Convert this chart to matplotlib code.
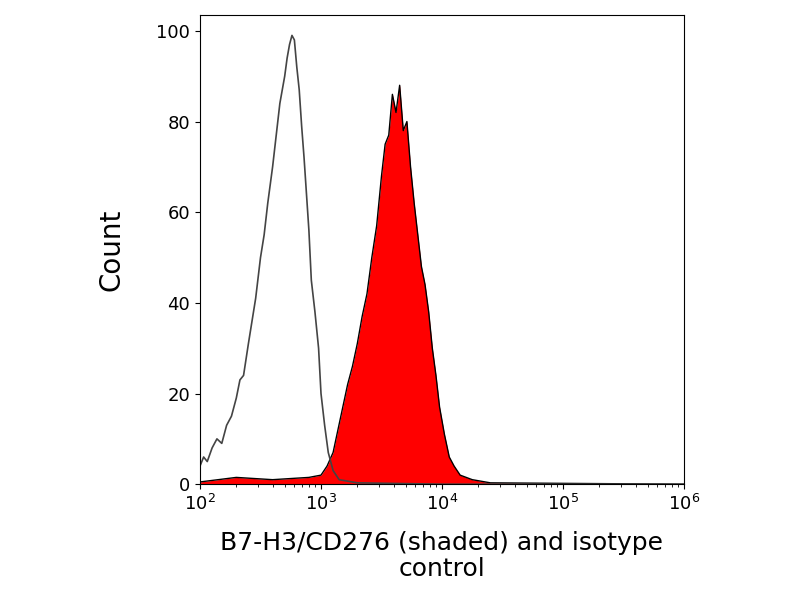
import matplotlib
matplotlib.use("Agg")
import matplotlib.pyplot as plt
import numpy as np

# log10 of intensity and count
iso_logx = [2.0, 2.03, 2.06, 2.1, 2.14, 2.18, 2.22, 2.26, 2.3, 2.33, 2.36, 2.4, 2.43, 2.46, 2.5,
            2.53, 2.56, 2.6, 2.63, 2.66, 2.7, 2.72, 2.74, 2.76, 2.78, 2.8, 2.82, 2.84, 2.86,
            2.88, 2.9, 2.92, 2.95, 2.98, 3.0, 3.03, 3.06, 3.1, 3.15, 3.3, 4.0, 6.0]
iso_count = [4, 6, 5, 8, 10, 9, 13, 15, 19, 23, 24, 31, 36, 41, 50,
             55, 62, 70, 77, 84, 90, 94, 97, 99, 98, 92, 87, 79, 72,
             64, 56, 45, 38, 30, 20, 13, 7, 3, 1, 0.3, 0, 0]

cd_logx = [2.0, 2.3, 2.6, 2.9, 3.0, 3.05, 3.1, 3.14, 3.18, 3.22, 3.26, 3.3, 3.34, 3.38,
           3.42, 3.46, 3.5, 3.53, 3.56, 3.59, 3.62, 3.65, 3.68, 3.71, 3.74, 3.77, 3.8,
           3.83, 3.86, 3.89, 3.92, 3.95, 3.98, 4.02, 4.06, 4.1, 4.15, 4.25, 4.4, 6.0]
cd_count = [0.5, 1.5, 1, 1.5, 2, 4, 7, 12, 17, 22, 26, 31, 37, 42,
            50, 57, 68, 75, 77, 86, 82, 88, 78, 80, 70, 62, 55,
            48, 44, 38, 30, 24, 17, 11, 6, 4, 2, 1, 0.3, 0]

fig, ax = plt.subplots(figsize=(8, 6), dpi=100)
fig.subplots_adjust(left=0.25, right=0.855, top=0.975, bottom=0.193)

cx = 10 ** np.array(cd_logx)
ax.fill_between(cx, cd_count, color="#ff0000", linewidth=0)
ax.plot(cx, cd_count, color="black", linewidth=1)
ax.plot(10 ** np.array(iso_logx), iso_count, color="#444444", linewidth=1.2)

ax.set_xscale("log")
ax.set_xlim(1e2, 1e6)
ax.set_ylim(0, 103.5)
ax.set_yticks([0, 20, 40, 60, 80, 100])
ax.tick_params(labelsize=13, direction="out")
ax.set_ylabel("Count", fontsize=20, labelpad=22)
ax.set_xlabel("B7-H3/CD276 (shaded) and isotype\ncontrol", fontsize=18,
              linespacing=1.1, labelpad=12)
fig.savefig("out.png")
